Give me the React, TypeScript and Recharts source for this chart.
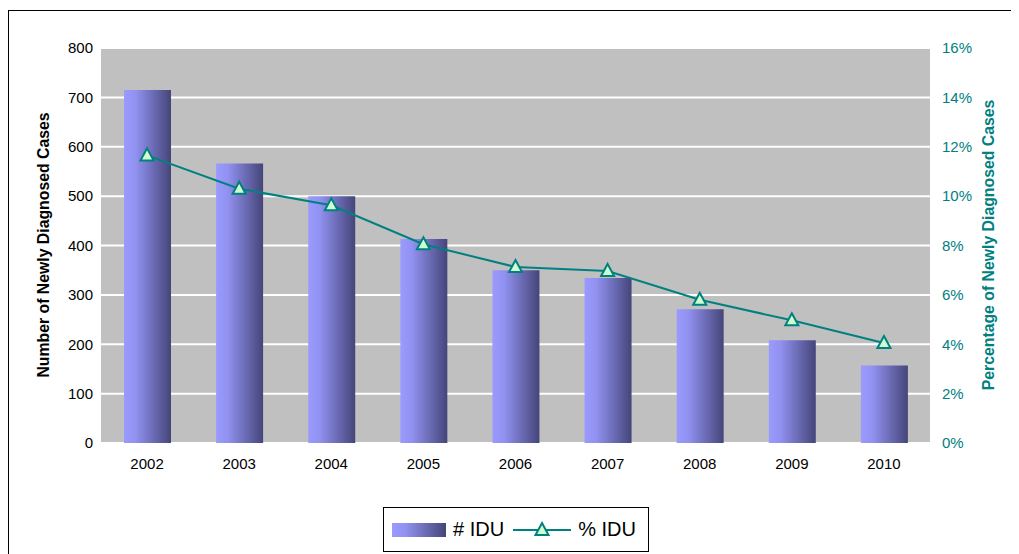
import { ComposedChart, Bar, Line, XAxis, YAxis, CartesianGrid } from 'recharts'

const years = ['2002', '2003', '2004', '2005', '2006', '2007', '2008', '2009', '2010']
const idCases = [715, 566, 500, 413, 350, 334, 271, 208, 157]
const idPercent = [11.65, 10.3, 9.63, 8.05, 7.13, 6.97, 5.8, 4.97, 4.05]

const leftTicks = [0, 100, 200, 300, 400, 500, 600, 700, 800]
const rightTicks = [0, 2, 4, 6, 8, 10, 12, 14, 16]

const data = years.map((year, i) => ({
  year,
  cases: idCases[i],
  pct: idPercent[i],
}))

const FONT = '"Liberation Sans", Arial, sans-serif'
const TEAL = '#008080'

// triangle marker like the excel one
const Triangle = (props: any) => {
  const { cx, cy } = props
  if (cx == null || cy == null) return null
  return (
    <path
      d={`M${cx},${cy - 7} L${cx + 6.5},${cy + 5} L${cx - 6.5},${cy + 5} Z`}
      fill='#ccffcc'
      stroke={TEAL}
      strokeWidth={2}
    />
  )
}

export default function App() {
  return (
    <div
      style={{
        position: 'relative',
        width: 1011,
        height: 546,
        fontFamily: FONT,
      }}
    >
      {/* frame */}
      <div
        style={{
          position: 'absolute',
          left: 0,
          top: 2,
          width: 1011,
          height: 544,
          borderTop: '1px solid #000',
          borderLeft: '1px solid #000',
          boxSizing: 'border-box',
        }}
      />
      <div style={{ position: 'absolute', left: 0, top: 0 }}>
        <ComposedChart
          width={1011}
          height={546}
          data={data}
          margin={{ top: 40, right: 29, bottom: 81, left: 33 }}
        >
          <defs>
            <linearGradient id='barGrad' x1='0' y1='0' x2='1' y2='0'>
              <stop offset='0%' stopColor='#9b9bff' />
              <stop offset='25%' stopColor='#9191f0' />
              <stop offset='100%' stopColor='#45457a' />
            </linearGradient>
          </defs>
          <CartesianGrid
            vertical={false}
            stroke='#ffffff'
            strokeWidth={2}
            fill='#c0c0c0'
            yAxisId='left'
          />
          <XAxis
            dataKey='year'
            axisLine={false}
            tickLine={false}
            tickSize={5}
            tickMargin={10}
            height={30}
            tick={{ fill: '#000', fontSize: 15, fontFamily: FONT }}
          />
          <YAxis
            yAxisId='left'
            domain={[0, 800]}
            ticks={leftTicks}
            width={60}
            axisLine={false}
            tickLine={false}
            tick={{ fill: '#000', fontSize: 15, fontFamily: FONT }}
          />
          <YAxis
            yAxisId='right'
            orientation='right'
            domain={[0, 16]}
            ticks={rightTicks}
            width={60}
            axisLine={false}
            tickLine={false}
            tickMargin={6}
            tickFormatter={(v) => `${v}%`}
            tick={{ fill: TEAL, fontSize: 15, fontFamily: FONT }}
          />
          <Bar
            yAxisId='left'
            dataKey='cases'
            fill='url(#barGrad)'
            barSize={47}
            isAnimationActive={false}
          />
          <Line
            yAxisId='right'
            dataKey='pct'
            stroke={TEAL}
            strokeWidth={2}
            dot={<Triangle />}
            activeDot={false}
            isAnimationActive={false}
          />
          <text
            x={37}
            y={237}
            transform='rotate(-90 37 237)'
            textAnchor='middle'
            dominantBaseline='middle'
            fontSize={15.8}
            fontWeight='bold'
            fontFamily={FONT}
            fill='#000'
          >
            Number of Newly Diagnosed Cases
          </text>
          <text
            x={982}
            y={237}
            transform='rotate(-90 982 237)'
            textAnchor='middle'
            dominantBaseline='middle'
            fontSize={15.8}
            fontWeight='bold'
            fontFamily={FONT}
            fill={TEAL}
          >
            Percentage of Newly Diagnosed Cases
          </text>
        </ComposedChart>
      </div>

      {/* legend */}
      <div
        style={{
          position: 'absolute',
          left: 375,
          top: 499,
          width: 266,
          height: 45,
          border: '1px solid #000',
          boxSizing: 'border-box',
          display: 'flex',
          alignItems: 'center',
          fontSize: 20,
          color: '#000',
        }}
      >
        <div
          style={{
            marginLeft: 8,
            width: 54,
            height: 14,
            background:
              'linear-gradient(to right, #9b9bff 0%, #9191f0 25%, #45457a 100%)',
          }}
        />
        <span style={{ marginLeft: 7 }}>
          # IDU
        </span>
        <svg width={58} height={20} style={{ marginLeft: 9 }}>
          <line x1={0} y1={10} x2={58} y2={10} stroke={TEAL} strokeWidth={2} />
          <path d='M29,3 L35.5,15 L22.5,15 Z' fill='#ccffcc' stroke={TEAL} strokeWidth={2} />
        </svg>
        <span style={{ marginLeft: 7 }}>% IDU</span>
      </div>
    </div>
  )
}
